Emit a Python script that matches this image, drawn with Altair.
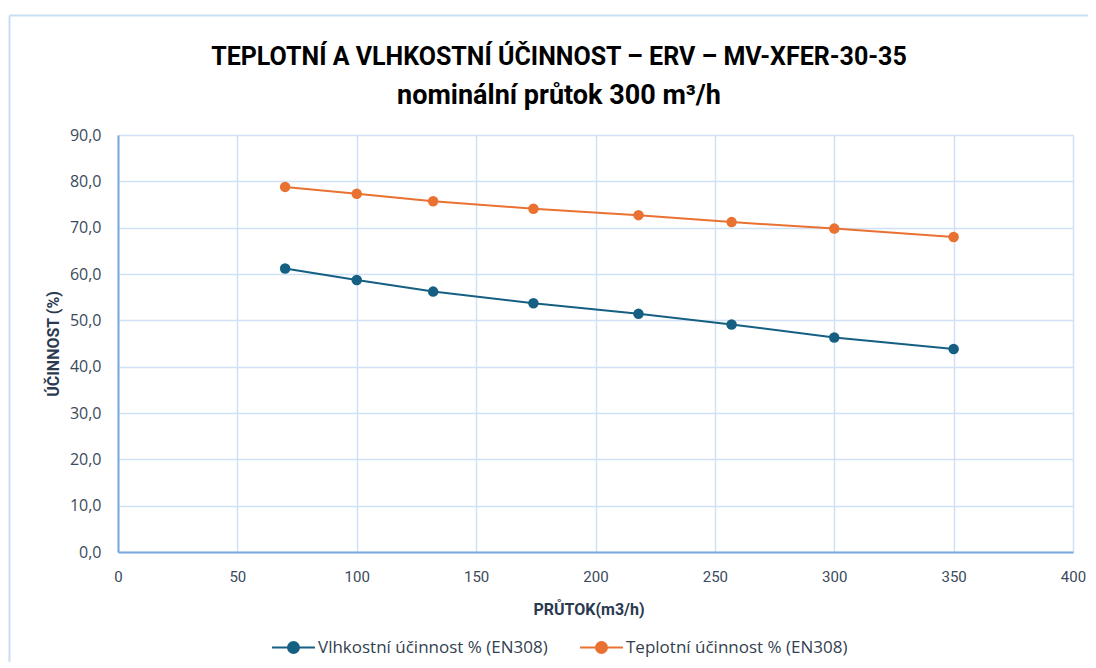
import altair as alt
import pandas as pd

flow = [70, 100, 132, 174, 218, 257, 300, 350]
vlhkost = [61.2, 58.7, 56.2, 53.7, 51.4, 49.1, 46.3, 43.8]
teplota = [78.8, 77.3, 75.7, 74.1, 72.7, 71.2, 69.8, 68.0]
series_names = ["Vlhkostní účinnost % (EN308)", "Teplotní účinnost % (EN308)"]
series_colors = ["#156082", "#E97132"]
title_lines = ["TEPLOTNÍ A VLHKOSTNÍ ÚČINNOST – ERV – MV-XFER-30-35", "nominální průtok 300 m³/h"]

rows = []
for f, v in zip(flow, vlhkost):
    rows.append({"flow": f, "val": v, "series": series_names[0]})
for f, t in zip(flow, teplota):
    rows.append({"flow": f, "val": t, "series": series_names[1]})
df = pd.DataFrame(rows)

W, H = 955, 417

color = alt.Color(
    "series:N",
    scale=alt.Scale(domain=series_names, range=series_colors),
    legend=alt.Legend(
        title=None,
        orient="none",
        legendX=167,
        legendY=504,
        direction="horizontal",
        symbolType="M-3.9,0L-1,0M1,0L3.9,0M-1,0A1,1 0 1,0 1,0A1,1 0 1,0 -1,0Z",
        symbolSize=121,
        symbolStrokeWidth=2,
        labelOffset=16,
        labelFont="Open Sans",
        labelFontSize=17,
        labelColor="#333F50",
        labelLimit=400,
        columnPadding=28,
    ),
)

x = alt.X(
    "flow:Q",
    scale=alt.Scale(domain=[0, 400], nice=False),
    axis=alt.Axis(
        values=[0, 50, 100, 150, 200, 250, 300, 350, 400],
        title="PRŮTOK(m3/h)",
        titleFont="Roboto",
        titleFontSize=16,
        titleFontWeight="bold",
        titleColor="#2B3A4F",
        titleX=W / 2 - 7,
        titleY=57,
        titleAlign="center",
        titleBaseline="middle",
        labelFont="Roboto",
        labelFontSize=15,
        labelColor="#3B4A5C",
        labelPadding=17,
        labelFlush=False,
        ticks=False,
        domainColor="#7BA9DD",
        domainWidth=2,
        gridColor="#D0E1F5",
        gridWidth=1.5,
    ),
)
y = alt.Y(
    "val:Q",
    scale=alt.Scale(domain=[0, 90], nice=False),
    axis=alt.Axis(
        values=[0, 10, 20, 30, 40, 50, 60, 70, 80, 90],
        labelExpr="replace(format(datum.value, '.1f'), '.', ',')",
        title="ÚČINNOST (%)",
        titleFont="Roboto",
        titleFontSize=16,
        titleFontWeight="bold",
        titleColor="#2B3A4F",
        titleX=-65,
        titleY=H / 2,
        titleAngle=-90,
        titleAlign="center",
        titleBaseline="middle",
        labelFont="Open Sans",
        labelFontSize=16,
        labelColor="#3B4A5C",
        labelPadding=17,
        labelFlush=False,
        ticks=False,
        domainColor="#7BA9DD",
        domainWidth=2,
        gridColor="#D0E1F5",
        gridWidth=1.5,
    ),
)

lines = alt.Chart(df).mark_line(strokeWidth=2).encode(x=x, y=y, color=color)
points = alt.Chart(df).mark_point(filled=True, size=110, opacity=1).encode(
    x="flow:Q", y="val:Q", color=alt.Color("series:N", legend=None)
)

one = pd.DataFrame({"k": [0]})
frame_left = alt.Chart(one).mark_rule(color="#C9DDF3", strokeWidth=2, clip=False).encode(
    x=alt.value(-108.5), y=alt.value(-119.5), y2=alt.value(560)
)
frame_top = alt.Chart(one).mark_rule(color="#C9DDF3", strokeWidth=2, clip=False).encode(
    x=alt.value(-108.5), x2=alt.value(1000), y=alt.value(-119.5)
)
title1 = alt.Chart(one).mark_text(
    font="Roboto", fontSize=25, fontWeight="bold", color="#000000",
    align="center", baseline="alphabetic", clip=False,
).encode(x=alt.value(441), y=alt.value(-70), text=alt.value(title_lines[0]))
title2 = alt.Chart(one).mark_text(
    font="Roboto", fontSize=27, fontWeight="bold", color="#000000",
    align="center", baseline="alphabetic", clip=False,
).encode(x=alt.value(441), y=alt.value(-31), text=alt.value(title_lines[1]))

chart = (
    alt.layer(frame_left, frame_top, title1, title2, lines, points)
    .properties(
        width=W,
        height=H,
        autosize=alt.AutoSizeParams(type="none"),
        padding={"left": 110, "top": 127, "right": 15, "bottom": 110},
    )
    .configure_view(stroke=None)
    .configure(background="white")
)

chart.save("out.html", embed_options={"renderer": "svg", "actions": False})
